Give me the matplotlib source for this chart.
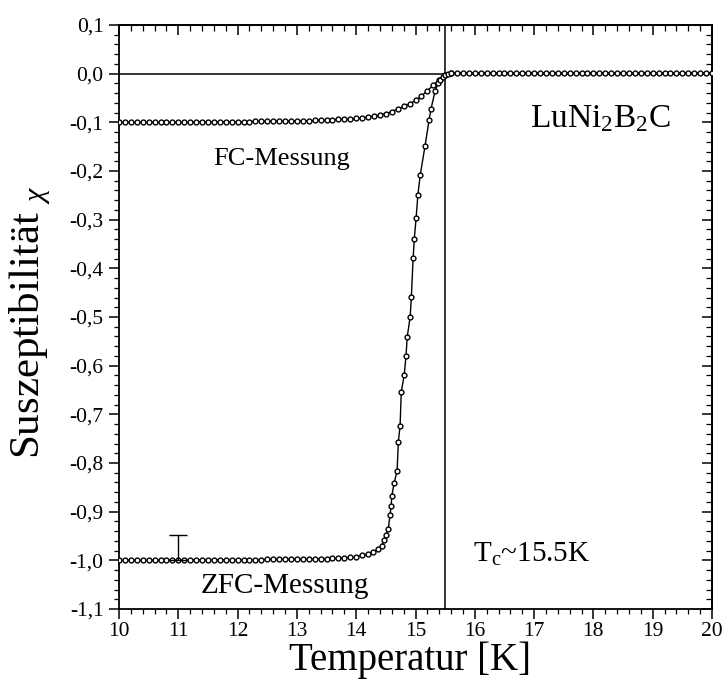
import numpy as np
import matplotlib
matplotlib.use("Agg")
import matplotlib.pyplot as plt
from matplotlib.ticker import MultipleLocator, FuncFormatter, NullFormatter

plt.rcParams['font.family'] = ['Liberation Serif', 'DejaVu Serif']
plt.rcParams['mathtext.fontset'] = 'custom'
plt.rcParams['mathtext.rm'] = 'Liberation Serif'
plt.rcParams['mathtext.it'] = 'Liberation Serif:italic'

# ZFC-Messung
zfc_T = [10.0, 10.1, 10.2, 10.3, 10.4, 10.5, 10.6, 10.7, 10.8, 10.9,
         11.0, 11.1, 11.2, 11.3, 11.4, 11.5, 11.6, 11.7, 11.8, 11.9,
         12.0, 12.1, 12.2, 12.3, 12.4, 12.5, 12.6, 12.7, 12.8, 12.9,
         13.0, 13.1, 13.2, 13.3, 13.4, 13.5, 13.6, 13.7, 13.8, 13.9,
         14.0, 14.1, 14.2, 14.28, 14.37, 14.43, 14.47, 14.50, 14.54, 14.57,
         14.59, 14.60, 14.64, 14.69, 14.71, 14.74, 14.76, 14.81, 14.84, 14.86,
         14.91, 14.93, 14.96, 14.98, 15.01, 15.04, 15.08, 15.16, 15.23, 15.26,
         15.33, 15.38, 15.42, 15.46, 15.50, 15.55, 15.6, 15.7, 15.8, 15.9,
         16.0, 16.1, 16.2, 16.3, 16.4, 16.5, 16.6, 16.7, 16.8, 16.9,
         17.0, 17.1, 17.2, 17.3, 17.4, 17.5, 17.6, 17.7, 17.8, 17.9,
         18.0, 18.1, 18.2, 18.3, 18.4, 18.5, 18.6, 18.7, 18.8, 18.9,
         19.0, 19.1, 19.2, 19.3, 19.4, 19.5, 19.6, 19.7, 19.8, 19.9, 20.0]
zfc_chi = [-1.0, -1.0, -1.0, -1.0, -1.0, -1.0, -1.0, -1.0, -1.0, -1.0,
           -1.0, -0.999, -0.999, -0.999, -0.999, -0.999, -0.999, -0.999, -0.999, -0.999,
           -0.999, -0.999, -0.999, -0.999, -0.999, -0.998, -0.998, -0.998, -0.998, -0.998,
           -0.998, -0.998, -0.998, -0.997, -0.997, -0.997, -0.996, -0.996, -0.995, -0.994,
           -0.993, -0.990, -0.987, -0.983, -0.977, -0.970, -0.958, -0.948, -0.936, -0.907,
           -0.888, -0.868, -0.841, -0.816, -0.757, -0.724, -0.654, -0.619, -0.580, -0.541,
           -0.500, -0.459, -0.379, -0.339, -0.297, -0.249, -0.208, -0.149, -0.095, -0.073,
           -0.036, -0.020, -0.012, -0.006, -0.002, 0.0, 0.002, 0.002, 0.002, 0.002,
           0.002, 0.002, 0.002, 0.002, 0.002, 0.002, 0.002, 0.002, 0.002, 0.002,
           0.002, 0.002, 0.002, 0.002, 0.002, 0.002, 0.002, 0.002, 0.002, 0.002,
           0.002, 0.002, 0.002, 0.002, 0.002, 0.002, 0.002, 0.002, 0.002, 0.002,
           0.002, 0.002, 0.002, 0.002, 0.002, 0.002, 0.002, 0.002, 0.002, 0.002, 0.002]

# FC-Messung
fc_T = [10.0, 10.1, 10.2, 10.3, 10.4, 10.5, 10.6, 10.7, 10.8, 10.9,
        11.0, 11.1, 11.2, 11.3, 11.4, 11.5, 11.6, 11.7, 11.8, 11.9,
        12.0, 12.1, 12.2, 12.3, 12.4, 12.5, 12.6, 12.7, 12.8, 12.9,
        13.0, 13.1, 13.2, 13.3, 13.4, 13.5, 13.6, 13.7, 13.8, 13.9,
        14.0, 14.1, 14.2, 14.3, 14.4, 14.5, 14.6, 14.7, 14.8, 14.9,
        15.0, 15.1, 15.2, 15.3, 15.4, 15.5, 15.6]
fc_chi = [-0.100, -0.100, -0.100, -0.100, -0.100, -0.100, -0.100, -0.100, -0.100, -0.100,
          -0.100, -0.100, -0.100, -0.099, -0.099, -0.099, -0.099, -0.099, -0.099, -0.099,
          -0.099, -0.099, -0.099, -0.098, -0.098, -0.098, -0.098, -0.098, -0.098, -0.097,
          -0.097, -0.097, -0.097, -0.096, -0.096, -0.096, -0.095, -0.094, -0.094, -0.093,
          -0.092, -0.091, -0.089, -0.087, -0.085, -0.082, -0.078, -0.073, -0.067, -0.062,
          -0.055, -0.046, -0.035, -0.024, -0.012, -0.003, 0.001]

x_ticks = [10, 11, 12, 13, 14, 15, 16, 17, 18, 19, 20]
y_ticks = [0.1, 0.0, -0.1, -0.2, -0.3, -0.4, -0.5, -0.6, -0.7, -0.8, -0.9, -1.0, -1.1]
Tc = 15.5
err_T, err_chi, err_up = 11.0, -1.0, 0.052

fig = plt.figure(figsize=(7.26, 6.99), dpi=100)
ax = fig.add_axes([119 / 726, 1 - 609 / 699, 593 / 726, 584 / 699])

ax.axhline(0.0, color='black', lw=1.1, zorder=1)
ax.axvline(Tc, color='black', lw=1.1, zorder=1)

ax.plot(fc_T, fc_chi, '-', color='black', lw=1.0, marker='o', ms=3.5,
        mfc='white', mec='black', mew=1.0, zorder=3)
ax.plot(zfc_T, zfc_chi, '-', color='black', lw=1.0, marker='o', ms=3.5,
        mfc='white', mec='black', mew=1.0, zorder=4)
ax.errorbar([err_T], [err_chi], yerr=[[0], [err_up]], fmt='none', ecolor='black',
            elinewidth=1.0, capsize=6.5, capthick=1.0, zorder=5)

ax.set_xlim(10, 20)
ax.set_ylim(-1.1, 0.1)
ax.set_xticks(x_ticks)
ax.set_yticks(y_ticks)
ax.xaxis.set_minor_locator(MultipleLocator(0.2))
ax.yaxis.set_minor_locator(MultipleLocator(0.02))
ax.yaxis.set_major_formatter(FuncFormatter(lambda v, p: f"{round(v, 1) + 0.0:.1f}".replace('.', ',')))
ax.xaxis.set_major_formatter(FuncFormatter(lambda v, p: f"{v:.0f}"))

ax.tick_params(axis='both', which='major', direction='out', length=7, width=1.1,
               labelsize=15.5, top=False, right=False)
ax.tick_params(axis='both', which='minor', direction='out', length=3.6, width=0.9,
               top=False, right=False)
ax.tick_params(axis='x', which='major', pad=2)
ax.tick_params(axis='y', which='major', pad=4)

# obere und rechte Achse mit Innenstrichen
top = ax.secondary_xaxis('top')
top.set_xticks(x_ticks)
top.xaxis.set_minor_locator(MultipleLocator(0.2))
top.xaxis.set_major_formatter(NullFormatter())
top.tick_params(which='major', direction='in', length=7, width=1.1)
top.tick_params(which='minor', direction='in', length=4, width=0.9)
right = ax.secondary_yaxis('right')
right.set_yticks(y_ticks)
right.yaxis.set_minor_locator(MultipleLocator(0.02))
right.yaxis.set_major_formatter(NullFormatter())
right.tick_params(which='major', direction='in', length=7, width=1.1)
right.tick_params(which='minor', direction='in', length=4, width=0.9)

for sp in list(ax.spines.values()) + [top.spines['top'], right.spines['right']]:
    sp.set_linewidth(1.3)

ax.set_xlabel('Temperatur [K]', fontsize=28)
ax.set_ylabel('Suszeptibilität ${}_{\\chi}$', fontsize=31)
ax.xaxis.set_label_coords(0.49, -0.087)
ax.xaxis.label.set_va('center')
ax.yaxis.set_label_coords(-0.150, 0.49)
ax.yaxis.label.set_va('center')

ax.text(16.93, -0.110, 'LuNi$_2$B$_2$C', fontsize=24, va='baseline', ha='left')
ax.text(11.585, -0.188, 'FC-Messung', fontsize=19, va='baseline', ha='left')
ax.text(11.37, -1.067, 'ZFC-Messung', fontsize=21, va='baseline', ha='left')
ax.text(15.97, -1.003, 'T$_\\mathrm{c}$~15.5K', fontsize=21, va='baseline', ha='left')

fig.savefig('out.png', dpi=100)
